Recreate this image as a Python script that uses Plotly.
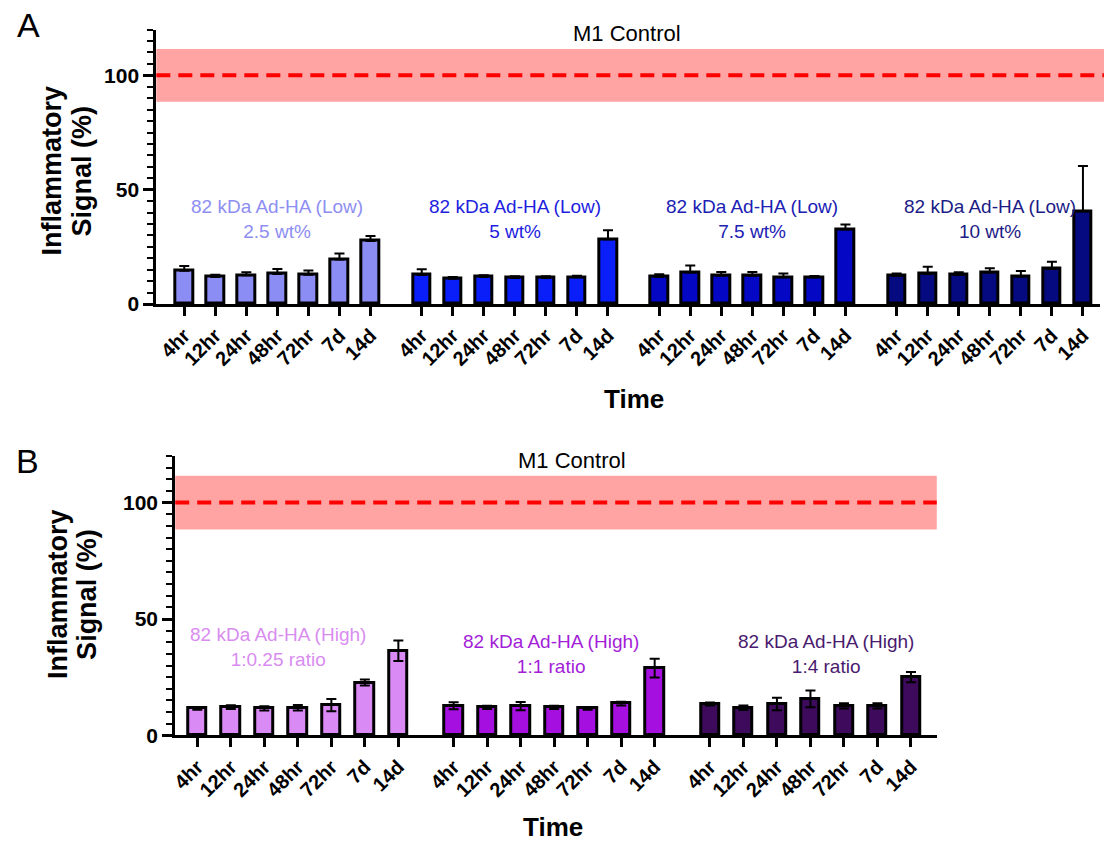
import plotly.graph_objects as go

W, H = 1104, 855

times = ["4hr", "12hr", "24hr", "48hr", "72hr", "7d", "14d"]

# Panel A: 82 kDa Ad-HA (Low), four concentrations
a_groups = ["82 kDa Ad-HA (Low)<br>2.5 wt%", "82 kDa Ad-HA (Low)<br>5 wt%",
            "82 kDa Ad-HA (Low)<br>7.5 wt%", "82 kDa Ad-HA (Low)<br>10 wt%"]
a_mean = [
    [14.5, 11.8, 12.6, 13.1, 12.8, 19.5, 27.6],
    [12.7, 11.1, 11.8, 11.4, 11.4, 11.7, 28.3],
    [11.8, 13.8, 12.4, 12.4, 11.7, 11.7, 32.6],
    [12.3, 13.1, 12.7, 13.8, 12.0, 15.3, 40.6],
]
a_err = [
    [2.1, 1.0, 1.3, 2.2, 1.9, 2.6, 2.2],
    [2.5, 0.7, 0.8, 0.7, 0.7, 0.7, 4.0],
    [1.2, 3.1, 1.6, 1.6, 1.7, 0.6, 2.2],
    [1.0, 3.2, 1.2, 1.9, 2.4, 3.2, 19.8],
]
a_bar_colors = ["#8C8CF5", "#0A1EFA", "#0408C4", "#050A80"]
a_text_colors = ["#8E8EF2", "#1E1EE0", "#2020B4", "#1C1C86"]

# Panel B: 82 kDa Ad-HA (High), three ratios
b_groups = ["82 kDa Ad-HA (High)<br>1:0.25 ratio", "82 kDa Ad-HA (High)<br>1:1 ratio",
            "82 kDa Ad-HA (High)<br>1:4 ratio"]
b_mean = [
    [11.6, 12.2, 11.6, 11.9, 13.0, 22.7, 36.4],
    [12.7, 12.0, 12.6, 12.0, 11.6, 13.7, 28.9],
    [13.5, 11.9, 13.5, 15.7, 12.7, 12.7, 25.0],
]
b_err = [
    [0.6, 0.8, 0.9, 1.2, 2.6, 1.3, 4.4],
    [1.5, 0.7, 1.8, 0.7, 0.6, 0.8, 4.0],
    [0.6, 1.0, 2.7, 3.6, 1.1, 1.1, 2.2],
]
b_bar_colors = ["#DA8AF4", "#A50FE0", "#3D0A5C"]
b_text_colors = ["#D98CF0", "#A31ED8", "#4A1A6E"]

control_mean = 100
control_sd = 11.5

GROUP_STEP = 7.65
FONT = "Arial, Liberation Sans, sans-serif"

fig = go.Figure()


def px_x(p):
    return p / W


def px_y(p):
    return 1 - p / H


def add_panel(means, errs, bar_colors, xa, ya, width, symmetric):
    tickvals, ticktext = [], []
    for g, (m, e, c) in enumerate(zip(means, errs, bar_colors)):
        xs = [g * GROUP_STEP + i for i in range(len(times))]
        tickvals += xs
        ticktext += times
        err = dict(type="data", array=e, color="black", thickness=2, width=5, visible=True)
        if not symmetric:
            err.update(symmetric=False, arrayminus=[0] * len(e))
        fig.add_trace(go.Bar(
            x=xs, y=m, width=width, xaxis=xa, yaxis=ya,
            marker=dict(color=c, line=dict(color="black", width=3)),
            error_y=err, showlegend=False,
        ))
    return tickvals, ticktext


tvA, ttA = add_panel(a_mean, a_err, a_bar_colors, "x", "y", 0.57, False)
tvB, ttB = add_panel(b_mean, b_err, b_bar_colors, "x2", "y2", 0.55, True)

nA = len(a_mean)
nB = len(b_mean)
lastA = (nA - 1) * GROUP_STEP + len(times) - 1
lastB = (nB - 1) * GROUP_STEP + len(times) - 1

xaxis_common = dict(
    showline=True, linewidth=3, linecolor="black", showgrid=False, zeroline=False,
    ticks="outside", ticklen=9, tickwidth=3, tickcolor="black", tickangle=-45,
    tickfont=dict(family=FONT, size=20, color="black", weight="bold"),
)
yaxis_common = dict(
    range=[0, 120], showline=True, linewidth=3, linecolor="black", showgrid=False,
    zeroline=False, tickvals=[0, 50, 100], ticks="outside", ticklen=10, tickwidth=3,
    tickcolor="black", tickfont=dict(family=FONT, size=21, color="black", weight="bold"),
    minor=dict(dtick=5, ticks="outside", ticklen=6, tickwidth=2, tickcolor="black", showgrid=False),
)

fig.update_layout(
    width=W, height=H, autosize=False,
    margin=dict(l=0, r=0, t=0, b=0),
    plot_bgcolor="white", paper_bgcolor="white",
    bargap=0,
    xaxis=dict(xaxis_common, domain=[px_x(152), px_x(1100)], range=[-0.9, lastA + 0.55],
               tickvals=tvA, ticktext=ttA, anchor="y"),
    yaxis=dict(yaxis_common, domain=[px_y(308), px_y(30)], anchor="x"),
    xaxis2=dict(xaxis_common, domain=[px_x(171), px_x(936)], range=[-0.66, lastB + 0.77],
                tickvals=tvB, ticktext=ttB, anchor="y2"),
    yaxis2=dict(yaxis_common, domain=[px_y(745), px_y(462)], anchor="x2"),
)

# Control band and dashed line
for xr, yr, x1 in (("x", "y", 1.005), ("x2", "y2", 1.0)):
    fig.add_shape(type="rect", xref=f"{xr} domain", yref=yr, x0=0, x1=x1,
                  y0=control_mean - control_sd, y1=control_mean + control_sd,
                  fillcolor="#FFA3A3", line=dict(width=0), layer="below")
    fig.add_shape(type="line", xref=f"{xr} domain", yref=yr, x0=0, x1=x1,
                  y0=control_mean, y1=control_mean,
                  line=dict(color="#FF0000", width=4, dash="14px,8px"), layer="below")

ann = []


def paper_text(xp, yp, text, size, bold=False, angle=0):
    f = dict(family=FONT, size=size, color="black")
    if bold:
        f["weight"] = "bold"
    ann.append(dict(x=px_x(xp), y=px_y(yp), xref="paper", yref="paper", text=text,
                    showarrow=False, xanchor="center", yanchor="middle",
                    textangle=angle, font=f))


# Group labels
for g, (t, c) in enumerate(zip(a_groups, a_text_colors)):
    ann.append(dict(x=g * GROUP_STEP + 3, y=37, xref="x", yref="y", text=t, showarrow=False,
                    xanchor="center", yanchor="middle",
                    font=dict(family=FONT, size=19, color=c), align="center"))
b_label_shift = [-0.6, -0.1, 0.45]
b_label_y = [38.0, 35.0, 35.0]
for g, (t, c) in enumerate(zip(b_groups, b_text_colors)):
    ann.append(dict(x=g * GROUP_STEP + 3 + b_label_shift[g], y=b_label_y[g], xref="x2", yref="y2",
                    text=t, showarrow=False, xanchor="center", yanchor="middle",
                    font=dict(family=FONT, size=19, color=c), align="center"))

# M1 Control labels
paper_text(625, 34, "M1 Control", 22)
paper_text(570, 467, "M1 Control", 22)

# Axis titles
paper_text(47, 173, "Inflammatory", 27, bold=True, angle=-90)
paper_text(77, 173, "Signal (%)", 27, bold=True, angle=-90)
paper_text(53, 602, "Inflammatory", 27, bold=True, angle=-90)
paper_text(83, 602, "Signal (%)", 27, bold=True, angle=-90)
paper_text(632, 404, "Time", 26, bold=True)
paper_text(550, 838, "Time", 26, bold=True)

# Panel letters
paper_text(24, 25, "A", 34)
paper_text(23, 467, "B", 34)

fig.update_layout(annotations=ann)

# Remove the default 8px body margin so the figure fills the window exactly.
fig.write_html("out.html", config={"displayModeBar": False},
               post_script="document.body.style.margin='0';document.body.style.overflow='hidden';")
